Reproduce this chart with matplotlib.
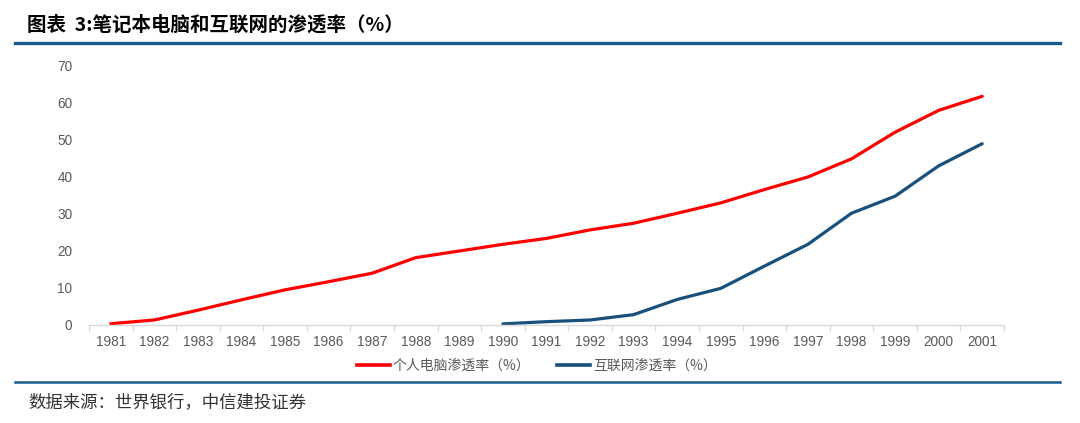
import matplotlib
matplotlib.use("Agg")
import matplotlib.pyplot as plt
from matplotlib.lines import Line2D

plt.rcParams["font.family"] = ["Noto Sans CJK SC", "DejaVu Sans"]

YEARS = [str(y) for y in range(1981, 2002)]
PC_RATE = [0.35, 1.35, 4.0, 6.8, 9.5, 11.7, 14.0, 18.2, 20.0, 21.8, 23.4,
           25.7, 27.5, 30.2, 33.0, 36.6, 40.0, 44.9, 52.1, 58.0, 61.8]
NET_YEARS = YEARS[9:]
NET_RATE = [0.3, 0.9, 1.35, 2.8, 6.9, 9.9, 15.9, 21.8, 30.2, 34.8, 43.0, 49.0]

TITLE = "图表  3:笔记本电脑和互联网的渗透率（%）"
SOURCE = "数据来源：世界银行，中信建投证券"
PC_LABEL = "个人电脑渗透率（%）"
NET_LABEL = "互联网渗透率（%）"

RED = "#FF0000"
BLUE = "#17507D"
RULE = "#1B5A8A"
GRAY = "#595959"

fig = plt.figure(figsize=(10.8, 4.23), dpi=100)
ax = fig.add_axes([0.0824, 0.2317, 0.8472, 0.6123])

x_pc = list(range(len(YEARS)))
x_net = [YEARS.index(y) for y in NET_YEARS]
ax.plot(x_pc, PC_RATE, color=RED, lw=2.3, solid_capstyle="round")
ax.plot(x_net, NET_RATE, color=BLUE, lw=2.3, solid_capstyle="round")

ax.set_xlim(-0.5, len(YEARS) - 0.5)
ax.set_ylim(0, 70)
ax.set_yticks(range(0, 71, 10))
ax.set_xticks(x_pc)
ax.set_xticklabels(YEARS)
ax.set_xticks([i - 0.5 for i in range(len(YEARS) + 1)], minor=True)

for s in ("top", "right", "left"):
    ax.spines[s].set_visible(False)
ax.spines["bottom"].set_color("#D9D9D9")
ax.spines["bottom"].set_linewidth(1.0)
ax.tick_params(axis="x", which="major", length=0, pad=7, labelsize=9.8, labelcolor=GRAY)
ax.tick_params(axis="x", which="minor", length=4, color="#D9D9D9", width=1.0)
ax.tick_params(axis="y", length=0, pad=12, labelsize=9.8, labelcolor=GRAY)
for lab in ax.get_xticklabels() + ax.get_yticklabels():
    lab.set_fontfamily(["Liberation Sans", "DejaVu Sans"])

handles = [Line2D([], [], color=RED, lw=2.6), Line2D([], [], color=BLUE, lw=2.6)]
fig.legend(handles, [PC_LABEL, NET_LABEL], loc="center", bbox_to_anchor=(0.497, 1 - 366 / 423),
           ncol=2, frameon=False, fontsize=10, handlelength=2.4, handletextpad=0.2,
           columnspacing=1.9, labelcolor=GRAY)

# header / footer
fig.text(27 / 1080, 1 - 25 / 423, TITLE, fontsize=14, fontweight="bold", va="center", ha="left")
fig.add_artist(Line2D([15 / 1080, 1060 / 1080], [1 - 43 / 423] * 2, color=RULE, lw=2.4))
fig.add_artist(Line2D([15 / 1080, 1060 / 1080], [1 - 382 / 423] * 2, color=RULE, lw=1.8))
fig.text(28 / 1080, 1 - 402 / 423, SOURCE, fontsize=12.5, style="italic", va="center", ha="left",
         color="#333333")

fig.savefig("out.png", dpi=100)
